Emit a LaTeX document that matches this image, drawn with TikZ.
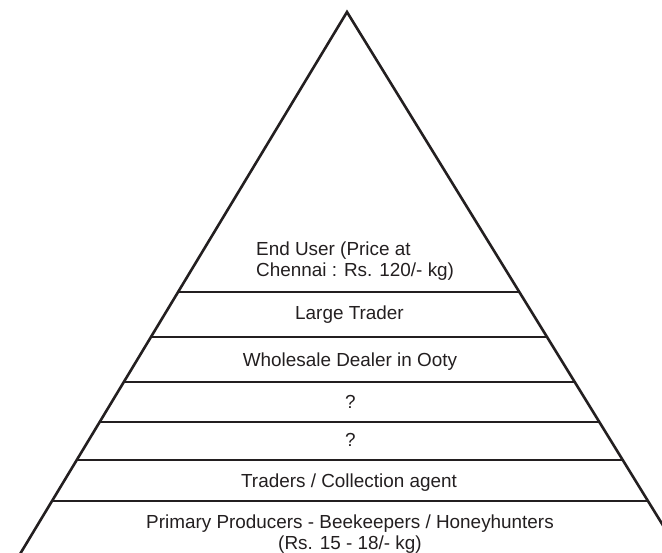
\documentclass[tikz,border=0pt]{standalone}
\usepackage{fontspec}
\setmainfont{Liberation Sans}
\usetikzlibrary{calc}
\definecolor{ink}{HTML}{231F20}
\tikzset{
  side/.style={draw=ink, line width=2.6pt, line join=miter},
  tier/.style={draw=ink, line width=2pt},
  label/.style={text=ink, inner sep=0pt, anchor=base, font=\fontsize{18.9}{21}\selectfont},
  leftlabel/.style={label, anchor=base west}
}
\begin{document}
\begin{tikzpicture}[x=1pt, y=-1pt]
  \useasboundingbox (0,0) rectangle (662,553);
  \clip (0,0) rectangle (662,553);

  % apex and the two far ends of the sides (beyond the page edge)
  \coordinate (apex) at (347,12);
  \coordinate (farL) at (-7.7,600);
  \coordinate (farR) at (708.9,600);
  \draw[side] (farL) -- (apex) -- (farR);

  % tier dividers, each spanning side to side at its height
  \foreach \y in {292,337,382,422,460,501} {
    \draw[tier] ($(apex)!{(\y-12)/588}!(farL)$) -- ($(apex)!{(\y-12)/588}!(farR)$);
  }

  % tier labels
  \node[leftlabel] (enduser) at (256,256) {End User (Price at};
  \node[leftlabel] (chennai) at (256,277) {Chennai : Rs. 120/- kg)};
  \node[label] (large) at (349.5,320) {Large Trader};
  \node[label] (wholesale) at (350,367) {Wholesale Dealer in Ooty};
  \node[label] (qone) at (350.5,409) {?};
  \node[label] (qtwo) at (350.5,447) {?};
  \node[label] (traders) at (349,487) {Traders / Collection agent};
  \node[label] (primary) at (350,528) {Primary Producers - Beekeepers / Honeyhunters};
  \node[label] (price) at (350,549) {(Rs. 15 - 18/- kg)};
\end{tikzpicture}
\end{document}
